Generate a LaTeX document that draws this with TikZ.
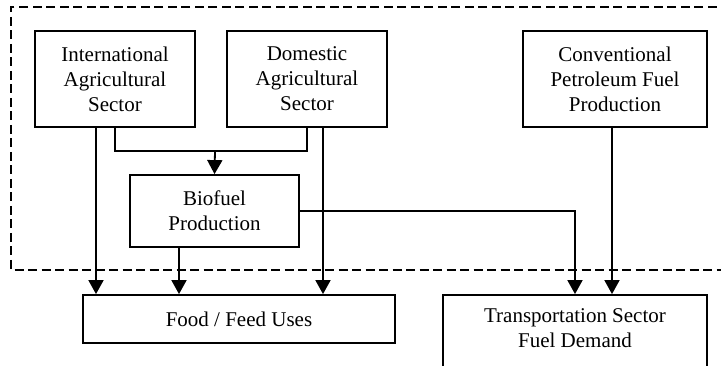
\documentclass[tikz,border=0pt]{standalone}
\usepackage{fontspec}
\setmainfont{Liberation Serif}
\usetikzlibrary{arrows.meta}
\begin{document}
\begin{tikzpicture}[x=1pt,y=-1pt,
  box/.style={draw,line width=1.8pt,align=center,inner sep=0pt,font=\fontsize{21}{25}\selectfont},
  conn/.style={line width=1.8pt,-{Triangle[length=14pt,width=15pt]}},
  plain/.style={line width=1.8pt},
  grp/.style={line width=1.5pt,dash pattern=on 9pt off 4.5pt}]
\useasboundingbox (0,0) rectangle (721,366);
% dashed group boundary (open to the right)
\draw[grp] (730,7) -- (11,7) -- (11,270) -- (730,270);
\node[box,minimum width=160pt,minimum height=96pt] (intl) at (115,79) {International\\Agricultural\\Sector};
\node[box,minimum width=160pt,minimum height=96pt] (dom) at (307,79) {Domestic\\Agricultural\\Sector};
\node[box,minimum width=184pt,minimum height=96pt] (conv) at (615,79) {Conventional\\Petroleum Fuel\\Production};
\node[box,minimum width=169pt,minimum height=72pt] (bio) at (214.5,211) {Biofuel\\Production};
\node[box,minimum width=312pt,minimum height=48pt] (food) at (239,319) {Food / Feed Uses};
\node[box,minimum width=264pt,minimum height=82pt,text depth=0pt] (trans) at (575,336) {};
\node[font=\fontsize{21}{25}\selectfont,align=center,anchor=north] (transtxt) at (575,305) {Transportation Sector\\Fuel Demand};
\coordinate (m) at (215,151);
\draw[plain] (intl.south -| 115,0) |- (m) -| (dom.south -| 307,0);
\draw[conn] (m) -- (bio.north);
\draw[conn] (intl.south -| 96,0) -- (food.north -| 96,0);
\draw[conn] (dom.south -| 323,0) -- (food.north -| 323,0);
\draw[conn] (bio.south -| 179,0) -- (food.north -| 179,0);
\draw[conn] (bio.east |- 0,211) -| (trans.north -| 575,0);
\draw[conn] (conv.south -| 612,0) -- (trans.north -| 612,0);
\end{tikzpicture}
\end{document}
